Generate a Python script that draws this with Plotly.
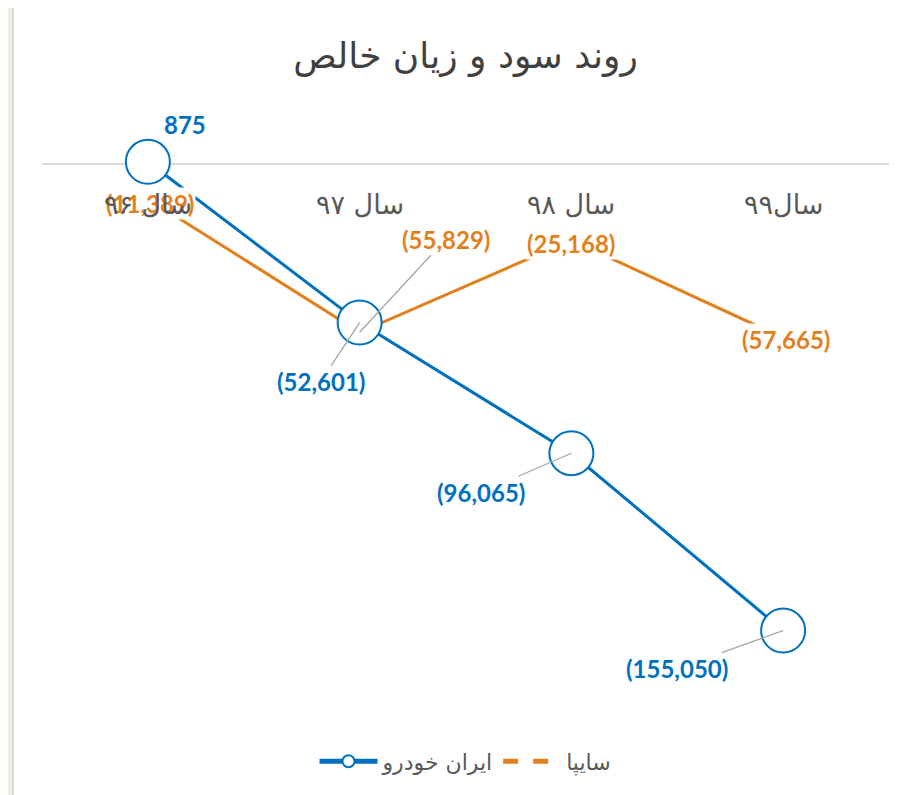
import plotly.graph_objects as go

# ---- data ----
categories = ["سال ۹۶", "سال ۹۷", "سال ۹۸", "سال۹۹"]
iran_khodro = [875, -52601, -96065, -155050]
saipa = [-11389, -55829, -25168, -57665]
series_names = ["ایران خودرو", "سایپا"]
title_text = "روند سود و زیان خالص"

BLUE = "#0070C0"
ORANGE = "#E2801C"
GREY_TXT = "#595959"


def fmt(v):
    return f"({abs(v):,})" if v < 0 else f"{v:,}"


fig = go.Figure()

# Saipa line (drawn first, below)
fig.add_trace(go.Scatter(
    x=categories, y=saipa, mode="lines", name=series_names[1],
    line=dict(color=ORANGE, width=3), showlegend=False, hoverinfo="skip"))

# Iran Khodro line + big hollow markers
fig.add_trace(go.Scatter(
    x=categories, y=iran_khodro, mode="lines+markers", name=series_names[0],
    line=dict(color=BLUE, width=3),
    marker=dict(symbol="circle", size=44, color="white",
                line=dict(color=BLUE, width=2)),
    hoverinfo="skip"))

# legend-only entry for Saipa (dashed symbol as in reference)
fig.add_trace(go.Scatter(
    x=[None], y=[None], mode="lines", name=series_names[1],
    line=dict(color=ORANGE, width=3, dash="dash")))

annotations = []

lab_font_b = dict(family="Lato", size=24, color=BLUE)
lab_font_o = dict(family="Lato", size=24, color=ORANGE)

# Iran Khodro labels (offsets in pixels)
blue_offsets = [(37, -37, False), (-39, 59, True), (-90, 39, True), (-106, 38, True)]
for c, v, (ax, ay, arrow) in zip(categories, iran_khodro, blue_offsets):
    if arrow:
        annotations.append(dict(
            x=c, y=v, xref="x", yref="y", text=f"<b>{fmt(v)}</b>",
            showarrow=True, ax=ax, ay=ay, arrowhead=0, arrowwidth=1.3,
            arrowcolor="#A6A6A6", font=lab_font_b))
    else:
        annotations.append(dict(
            x=c, y=v, xref="x", yref="y", text=f"<b>{fmt(v)}</b>",
            showarrow=False, xshift=ax, yshift=-ay, font=lab_font_b))

# Saipa labels
orange_offsets = [(2, -5, False), (86, -93, True), (0, -3, False), (3, -2, False)]
for c, v, (ax, ay, arrow) in zip(categories, saipa, orange_offsets):
    if arrow:
        annotations.append(dict(
            x=c, y=v, xref="x", yref="y", text=f"<b>{fmt(v)}</b>",
            showarrow=True, ax=ax, ay=ay, arrowhead=0, arrowwidth=1.3,
            arrowcolor="#A6A6A6", font=lab_font_o))
    else:
        annotations.append(dict(
            x=c, y=v, xref="x", yref="y", text=f"<b>{fmt(v)}</b>",
            showarrow=False, xshift=ax, yshift=ay, bgcolor="white",
            font=lab_font_o))

# category labels sitting just below the zero line (drawn last, on top)
for c in categories:
    annotations.append(dict(
        x=c, y=0, xref="x", yref="y", text=c, showarrow=False,
        yshift=-40, font=dict(family="DejaVu Sans", size=27, color=GREY_TXT)))

fig.update_layout(
    width=894, height=787,
    margin=dict(l=34, r=13, t=96, b=85),
    paper_bgcolor="#EEF1E2",
    plot_bgcolor="rgba(0,0,0,0)",
    title=dict(text=title_text, x=0.5, xref="paper", y=0.94, yref="container",
               xanchor="center", yanchor="middle",
               font=dict(family="DejaVu Sans", size=36, color="#404040")),
    xaxis=dict(type="category", range=[-0.5, 3.5], showticklabels=False,
               showgrid=False, zeroline=False, showline=False, fixedrange=True),
    yaxis=dict(range=[-179800, 20100], showticklabels=False, showgrid=False,
               zeroline=True, zerolinecolor="#D9D9D9", zerolinewidth=1.5,
               showline=False, fixedrange=True),
    legend=dict(orientation="h", x=0.5, xanchor="center", y=-0.094,
                yanchor="middle", itemsizing="constant", itemwidth=58,
                font=dict(family="DejaVu Sans", size=22, color=GREY_TXT),
                bgcolor="rgba(0,0,0,0)"),
    shapes=[dict(type="rect", xref="paper", yref="paper",
                 x0=-0.0342, x1=1.1, y0=-0.2, y1=1.2,
                 fillcolor="white", line=dict(color="#D9D9D9", width=2),
                 layer="below")],
    annotations=annotations,
    showlegend=True,
)

fig.write_html("out.html")
